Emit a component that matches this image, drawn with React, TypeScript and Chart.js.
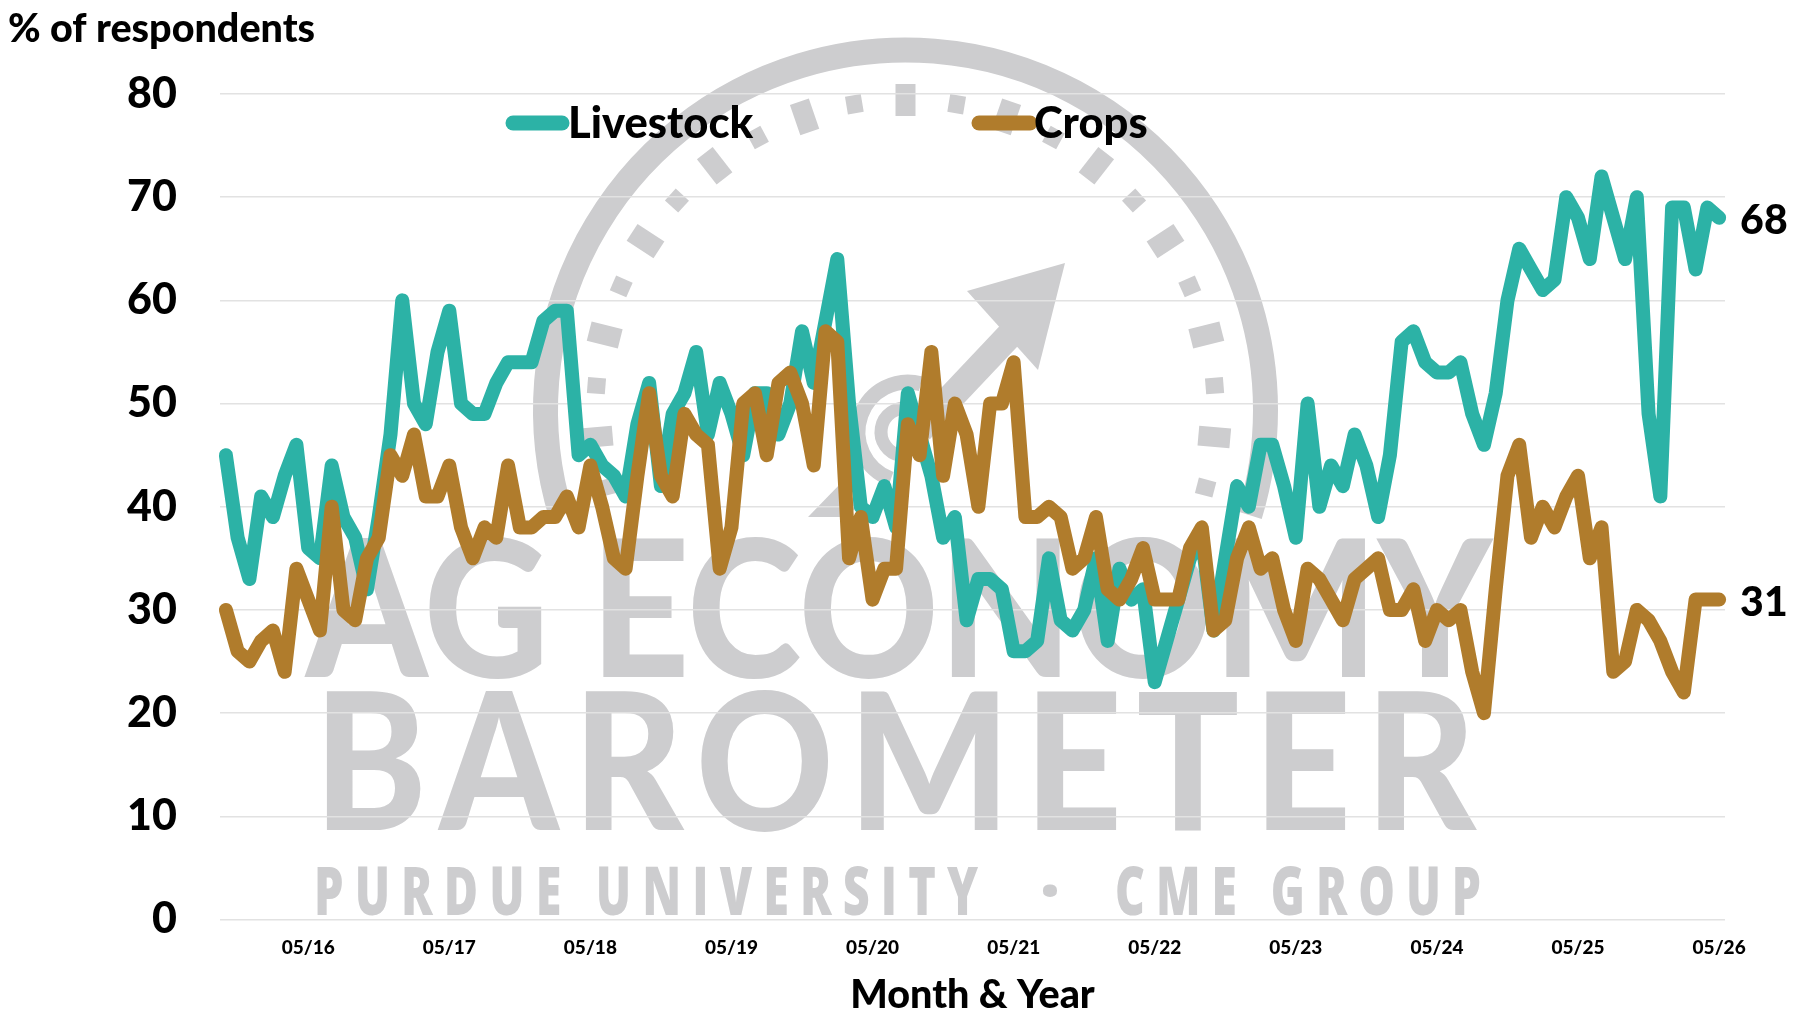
import React, { useEffect, useRef } from "react";
import { Chart, registerables } from "chart.js";

Chart.register(...registerables);

const startYear = 2015;
const startMonth = 10;
const livestock = [
  45, 37, 33, 41, 39, 43, 46, 36, 35, 44,
  39, 37, 32, 39, 47, 60, 50, 48, 55, 59,
  50, 49, 49, 52, 54, 54, 54, 58, 59, 59,
  45, 46, 44, 43, 41, 48, 52, 42, 49, 51,
  55, 47, 52, 49, 45, 51, 51, 47, 50, 57,
  52, 58, 64, 50, 40, 39, 42, 38, 51, 47,
  43, 37, 39, 29, 33, 33, 32, 26, 26, 27,
  35, 29, 28, 30, 35, 27, 34, 31, 32, 23,
  27, 31, 35, 37, 28, 35, 42, 40, 46, 46,
  42, 37, 50, 40, 44, 42, 47, 44, 39, 45,
  56, 57, 54, 53, 53, 54, 49, 46, 51, 60,
  65, 63, 61, 62, 70, 68, 64, 72, 68, 64,
  70, 49, 41, 69, 69, 63, 69, 68,
];
const crops = [
  30, 26, 25, 27, 28, 24, 34, 31, 28, 40,
  30, 29, 35, 37, 45, 43, 47, 41, 41, 44,
  38, 35, 38, 37, 44, 38, 38, 39, 39, 41,
  38, 44, 40, 35, 34, 43, 51, 43, 41, 49,
  47, 46, 34, 38, 50, 51, 45, 52, 53, 50,
  44, 57, 56, 35, 39, 31, 34, 34, 48, 45,
  55, 43, 50, 47, 40, 50, 50, 54, 39, 39,
  40, 39, 34, 35, 39, 32, 31, 33, 36, 31,
  31, 31, 36, 38, 28, 29, 35, 38, 34, 35,
  30, 27, 34, 33, 31, 29, 33, 34, 35, 30,
  30, 32, 27, 30, 29, 30, 24, 20, 32, 43,
  46, 37, 40, 38, 41, 43, 35, 38, 24, 25,
  30, 29, 27, 24, 22, 31, 31, 31,
];
const categories: string[] = livestock.map((_, i) => {
  const m = startMonth - 1 + i;
  const mm = String((m % 12) + 1).padStart(2, "0");
  const yy = String((startYear + Math.floor(m / 12)) % 100).padStart(2, "0");
  return `${mm}/${yy}`;
});

const TEAL = "#2cb2a6";
const BROWN = "#b07c2c";
const GREY = "#cdcdcf";
const FONT = "Lato, 'Open Sans', sans-serif";

function fitText(ctx: CanvasRenderingContext2D, text: string, x0: number, x1: number, baseline: number, capH: number, capRatio: number, weight: string, family: string, spacing = 0) {
  ctx.save();
  const size = capH / capRatio;
  ctx.font = `${weight} ${size}px ${family}`;
  (ctx as any).letterSpacing = `${spacing}px`;
  ctx.textAlign = "left";
  ctx.textBaseline = "alphabetic";
  const w = ctx.measureText(text).width - spacing;
  ctx.translate(x0, baseline);
  ctx.scale((x1 - x0) / w, 1);
  ctx.fillText(text, 0, 0);
  ctx.restore();
}

const watermark = {
  id: "watermark",
  beforeDraw(chart: any) {
    const ctx: CanvasRenderingContext2D = chart.ctx;
    ctx.save();
    ctx.strokeStyle = GREY;
    ctx.fillStyle = GREY;
    const cx = 905.5;
    const cy = 410;
    ctx.lineWidth = 25;
    ctx.beginPath();
    ctx.arc(cx, cy, 360, (Math.PI / 180) * 163, (Math.PI / 180) * 17);
    ctx.stroke();
    for (let i = -11; i <= 11; i++) {
      const long = i % 2 === 0;
      const a = (i * 9.5 * Math.PI) / 180;
      ctx.save();
      ctx.translate(cx, cy);
      ctx.rotate(a);
      const len = long ? 32 : 18;
      const wid = long ? 20 : 16;
      ctx.fillRect(-wid / 2, -310 - len / 2, wid, len);
      ctx.restore();
    }
    // arrow
    ctx.lineWidth = 27;
    ctx.beginPath();
    ctx.moveTo(1022, 322);
    ctx.lineTo(920, 430);
    ctx.stroke();
    ctx.beginPath();
    ctx.moveTo(1065, 263);
    ctx.lineTo(967, 291);
    ctx.lineTo(1038, 370);
    ctx.closePath();
    ctx.fill();
    // hub
    ctx.lineWidth = 15;
    ctx.beginPath();
    ctx.arc(908, 432, 50, (Math.PI / 180) * 110, (Math.PI / 180) * 285);
    ctx.stroke();
    ctx.lineWidth = 13;
    ctx.beginPath();
    ctx.arc(905, 432, 24, (Math.PI / 180) * 100, (Math.PI / 180) * 290);
    ctx.stroke();
    ctx.beginPath();
    ctx.moveTo(808, 517);
    ctx.lineTo(842, 482);
    ctx.lineTo(858, 506);
    ctx.lineTo(846, 517);
    ctx.closePath();
    ctx.fill();
    fitText(ctx, "AG ECONOMY", 306, 1492, 677, 137, 0.72, "900", "Lato");
    fitText(ctx, "BAROMETER", 314, 1476, 830, 137, 0.72, "900", "Lato", 16);
    fitText(ctx, "PURDUE UNIVERSITY", 314, 978, 915, 48, 0.714, "800", "'Open Sans'", 16);
    fitText(ctx, "·", 1040, 1060, 915, 48, 0.714, "800", "'Open Sans'");
    fitText(ctx, "CME GROUP", 1115, 1481, 915, 48, 0.714, "800", "'Open Sans'", 16);
    ctx.restore();
  },
};

const legendAndEnds = {
  id: "legendAndEnds",
  afterDraw(chart: any) {
    const ctx: CanvasRenderingContext2D = chart.ctx;
    ctx.save();
    const spots = [
      { i: 0, x0: 513, x1: 562, tx: 568 },
      { i: 1, x0: 979, x1: 1030, tx: 1034 },
    ];
    spots.forEach((s) => {
      const ds = chart.data.datasets[s.i];
      ctx.strokeStyle = ds.borderColor;
      ctx.lineWidth = 15;
      ctx.lineCap = "round";
      ctx.beginPath();
      ctx.moveTo(s.x0, 123);
      ctx.lineTo(s.x1, 123);
      ctx.stroke();
      ctx.fillStyle = "#000";
      ctx.font = `900 43.5px ${FONT}`;
      ctx.textAlign = "left";
      ctx.textBaseline = "middle";
      ctx.fillText(ds.label, s.tx, 124);
    });
    chart.data.datasets.forEach((ds: any, i: number) => {
      const pts = chart.getDatasetMeta(i).data;
      const last = pts[pts.length - 1];
      ctx.fillStyle = "#000";
      ctx.font = `900 41px ${FONT}`;
      ctx.textAlign = "left";
      ctx.textBaseline = "middle";
      ctx.fillText(String(ds.data[ds.data.length - 1]), last.x + 21, last.y + 3);
    });
    ctx.restore();
  },
};

export default function App() {
  const ref = useRef<HTMLCanvasElement>(null);
  useEffect(() => {
    const chart = new Chart(ref.current!, {
      type: "line",
      data: {
        labels: categories,
        datasets: [
          { label: "Livestock", data: livestock, borderColor: TEAL, backgroundColor: TEAL, borderWidth: 14, pointRadius: 0, tension: 0, borderJoinStyle: "round", borderCapStyle: "round", order: 1 },
          { label: "Crops", data: crops, borderColor: BROWN, backgroundColor: BROWN, borderWidth: 14, pointRadius: 0, tension: 0, borderJoinStyle: "round", borderCapStyle: "round", order: 0 },
        ],
      },
      options: {
        responsive: false,
        animation: false,
        layout: { padding: { left: 8, right: 68, top: 0, bottom: 0 } },
        plugins: {
          legend: { display: false },
          tooltip: { enabled: false },
          title: {
            display: true,
            text: "% of respondents",
            align: "start",
            color: "#000",
            font: { family: FONT, weight: "900", size: 39.5 },
            padding: { top: 5.5, bottom: 41.1 },
          },
        },
        scales: {
          x: {
            offset: true,
            grid: { display: false, drawTicks: false },
            border: { display: false },
            afterFit(scale: any) { scale.height = 97.5; },
            ticks: {
              autoSkip: false,
              maxRotation: 0,
              minRotation: 0,
              padding: 17,
              color: "#000",
              font: { family: FONT, weight: "900", size: 19 },
              callback(this: any, v: any) {
                const l = this.getLabelForValue(v);
                return l.startsWith("05/") ? l : "";
              },
            },
            title: {
              display: true,
              text: "Month & Year",
              color: "#000",
              font: { family: FONT, weight: "900", size: 39.5 },
              padding: { top: 0, bottom: -2 },
            },
          },
          y: {
            min: 0,
            max: 80,
            afterFit(scale: any) { scale.width = 212; },
            grid: { color: "#e2e2e2", lineWidth: 1.5, drawTicks: false },
            border: { display: false },
            ticks: {
              stepSize: 10,
              padding: 43,
              color: "#000",
              font: { family: FONT, weight: "900", size: 43 },
            },
          },
        },
      },
      plugins: [watermark, legendAndEnds],
    } as any);
    return () => chart.destroy();
  }, []);
  return (
    <div style={{ position: "absolute", left: 0, top: 0, width: 1793, height: 1017, overflow: "hidden", background: "#fff" }}>
      <canvas ref={ref} width={1793} height={1017} style={{ display: "block" }} />
    </div>
  );
}
